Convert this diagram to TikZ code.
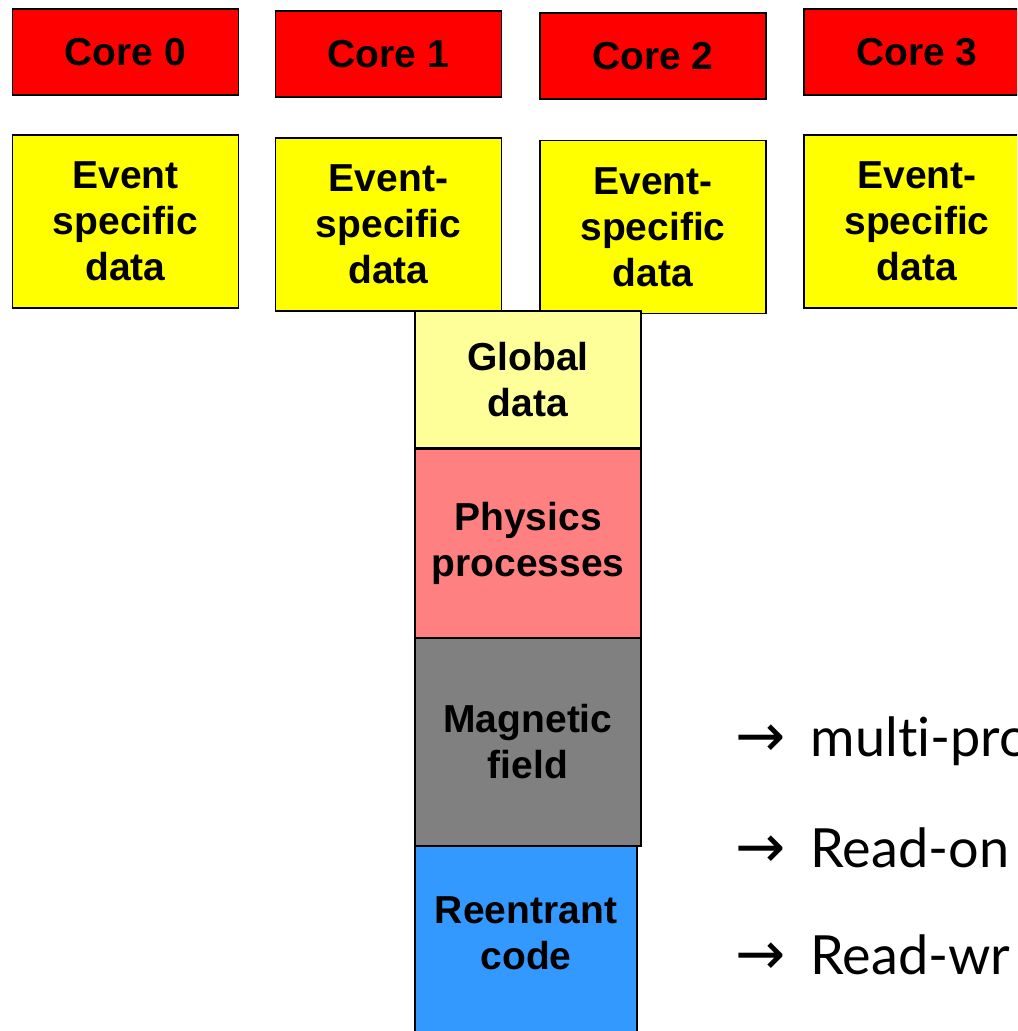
\documentclass[tikz,border=0pt]{standalone}
\usepackage{fontspec}
\setmainfont{Liberation Sans}
\newfontfamily\notefont[Ligatures={NoCommon,NoRare,NoDiscretionary}]{Lato}
\newfontfamily\symfont{DejaVu Sans}
\newcommand{\notearrow}{{\symfont\fontsize{30}{30}\selectfont →}\hspace{12.5pt}}
\definecolor{corered}{HTML}{FF0000}
\definecolor{evyellow}{HTML}{FFFF00}
\definecolor{globyellow}{HTML}{FFFF99}
\definecolor{physred}{HTML}{FF8080}
\definecolor{maggrey}{HTML}{808080}
\definecolor{codeblue}{HTML}{3399FF}

\begin{document}
\begin{tikzpicture}
	[x=0.5pt,y=-0.5pt,
	box/.style={draw, line width=0.8pt, inner sep=0pt, align=center,
		font=\fontsize{19.5}{23}\selectfont\bfseries},
	core/.style={box, fill=corered, minimum width=113pt, minimum height=43pt},
	event/.style={box, fill=evyellow, minimum width=113pt, minimum height=86.5pt},
	layer/.style={box, minimum width=113pt},
	note/.style={anchor=west, inner sep=0pt, font=\fontsize{27}{30}\selectfont\notefont}]
	\useasboundingbox (0,0) rectangle (1017,1031);
	\clip (0,0) rectangle (1017,1031);
	% cores
	\node[core] (c0) at (125.5,52) {Core 0};
	\node[core] (c1) at (388.5,54) {Core 1};
	\node[core] (c2) at (653,56)  {Core 2};
	\node[core] (c3) at (917,52)  {Core 3};
	% per-core data
	\node[event] (e0) at (125.5,221.5) {Event\\specific\\data};
	\node[event] (e1) at (388.5,224.5) {Event-\\specific\\data};
	\node[event] (e2) at (653,227)     {Event-\\specific\\data};
	\node[event] (e3) at (917,221.5)   {Event-\\specific\\data};
	% shared stack
	\node[layer, fill=globyellow, minimum height=68.5pt] (glob) at (528,379.5) {Global\\data};
	\node[layer, fill=physred, minimum height=94.5pt] (phys) at (528,543.5) {Physics\\processes};
	\node[layer, fill=maggrey, minimum height=104pt] (mag) at (528,742) {Magnetic\\field};
	\node[layer, fill=codeblue, minimum width=111pt, minimum height=100pt] (reent) at (526,946) {};
	\node[box, draw=none] (reentlbl) at (526,933) {Reentrant\\code};
	% notes
	\node[note] (n1) at (735,741) {\notearrow multi-pro};
	\node[note] (n2) at (735,848) {\notearrow Read-on};
	\node[note] (n3) at (735,955) {\notearrow Read-wr};
\end{tikzpicture}
\end{document}
